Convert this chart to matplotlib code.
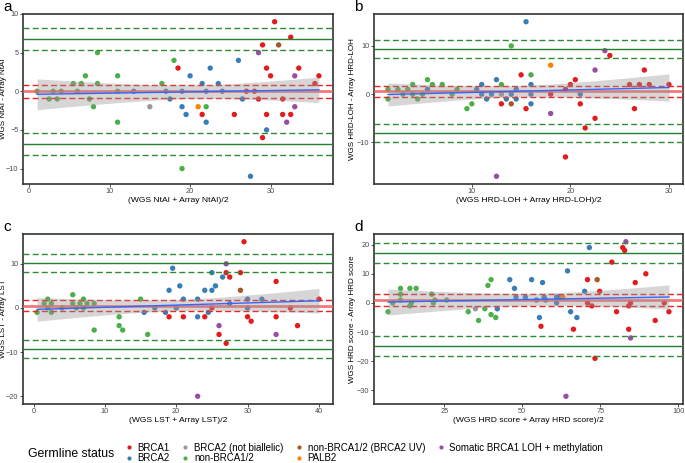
import numpy as np
import matplotlib.pyplot as plt
from matplotlib.lines import Line2D

plt.rcParams["font.family"] = ["Liberation Sans", "DejaVu Sans"]

# group codes -> (label, colour)
groups = ["r", "b", "y", "g", "n", "o", "p"]
group_names = {"r": "BRCA1", "b": "BRCA2", "y": "BRCA2 (not biallelic)", "g": "non-BRCA1/2",
               "n": "non-BRCA1/2 (BRCA2 UV)", "o": "PALB2", "p": "Somatic BRCA1 LOH + methylation"}
group_cols = {"r": "#E41A1C", "b": "#377EB8", "y": "#999999", "g": "#4DAF4A",
              "n": "#A65628", "o": "#FF7F00", "p": "#984EA3"}

# panel a: NtAI
a_x = [1, 2.5, 3, 3.5, 4, 5.5, 6, 6.5, 7, 7.5, 8, 8.5, 8.5, 11, 11, 11, 16.5, 18, 19, 22,
       15,
       13, 17, 17.5, 19, 19, 19.5, 20, 21.5, 22, 22, 22.5, 23.5, 24, 26, 26.5, 27.5, 29.5,
       21,
       18.5, 21.5, 25.5, 27, 28, 28.5, 29, 29, 29.5, 29.5, 30, 30.5, 31.5, 31.5, 32.5, 32.5, 33.5, 35.5, 36,
       28.5, 32, 33, 33,
       31]
a_y = [0, -1, 0, -1, 0, 1, 0, 1, 2, -1, -2, 5, 1, 2, 0, -4, 1, 4, -10, -2,
       -2,
       0, 0, -1, 0, -2, -3, 2, 1, 0, -4, 3, 1, 0, 4, -1, -11, -5,
       -2,
       3, -3, -3, 0, 0, -1, 6, -6, 3, -3, 2, 9, -1, -3, 7, -3, 3, 1, 2,
       5, -4, 2, -2,
       6]
a_g = list("g" * 20 + "y" + "b" * 17 + "o" + "r" * 19 + "p" * 4 + "n")

# panel b: HRD-LOH
b_x = [1.5, 1.5, 2.5, 3, 3.5, 4, 4, 4.5, 5, 5.5, 6, 7, 8, 8.5, 9.5, 10, 13, 14, 16,
       5.5, 10.5, 11, 11, 11.5, 12, 12.5, 13.5, 14, 14.5, 14.5, 15.5, 16, 16, 16, 21,
       13, 14, 18,
       13, 15, 15.5, 18, 19.5, 19.5, 20, 20.5, 21, 21.5, 22.5, 24, 26.5, 26, 27, 27.5, 28, 30,
       18, 22.5, 23.5, 12.5]
b_y = [1, -1, 1, 0, 1, 2, 0, -1, 0, 3, 2, 2, 0, 1, -3, -2, 2, 10, 4,
       1, 1, 2, 0, -1, 0, 3, -1, 0, 1, -1, 15, 2, 0, -2, 0,
       0, -2, 6,
       -2, 4, -3, 0, -13, 1, 2, 3, -2, -7, -5, 8, -3, 2, 2, 5, 2, 2,
       -4, 5, 9, -17]
b_g = list("g" * 19 + "b" * 16 + "yno" + "r" * 18 + "p" * 4)

# panel c: LST
c_x = [0.5, 1.5, 2, 2, 2.5, 2.5, 4, 5.5, 5.5, 6, 6.5, 7, 7, 7.5, 8.5, 8.5, 12, 12, 12.5, 15, 16,
       15.5, 17, 18.5, 19, 19.5, 20, 20.5, 21, 23, 23, 24, 24.5, 25, 25, 25.5, 26.5, 27.5, 30, 30, 32,
       19, 21, 24, 25, 26, 27, 27, 27.5, 29, 29.5, 30, 30.5, 34, 34, 36, 37, 40,
       26, 27, 23, 34,
       29]
c_y = [-1, 1, 2, 0, 1, -1, 0, 3, 1, 0, 1, 2, 0, 1, 1, -5, -2, -4, -5, 2, -6,
       -1, 0, -1, 4, 9, 0, 5, 2, 2, -2, 4, -1, 4, 8, 5, 7, 1, 2, 0, 2,
       -2, -2, -2, 0, -6, 8, -8, 7, 8, 15, -2, -3, 6, -2, 0, -4, 2,
       -4, 10, -20, -6,
       4]
c_g = list("g" * 21 + "b" * 20 + "r" * 17 + "p" * 4 + "n")

# panel d: HRD score
d_x = [7, 8.5, 11, 11, 11, 14, 14, 14.5, 16, 21, 21.5, 22, 25.8, 32.7, 36, 38, 39, 40, 40, 41.5,
       35,
       42, 46, 47.5, 48, 51, 53, 54.5, 55.5, 56.5, 57, 57.5, 61, 61, 62, 64.5, 65.5, 67.5, 70, 71.5,
       63, 74,
       56, 66.4, 70.9, 70.9, 72.3, 73.3, 74.8, 78.7, 80.2, 82.2, 82.8, 84.1, 84.1, 84.7, 86.2, 89.6, 92.6, 95.5, 97,
       83.2, 84.7, 64]
d_y = [-3, 0, 5, 3, 1, 5, -1, 0, 5, 3, 0, 1, 1, -3, -6, -2, 6, -4, 8, -5,
       -2,
       -2, 8, 5, 2, 2, 8, 1, -5, 7, 2, 1, 2, 0, 2, 11, -3, -5, 4, 19,
       2, 8,
       -8, -9, 8, 0, -1, -19, 4, 14, -3, 19, 18, -9, -1, 0, 7, 10, -6, 0, -3,
       21, -12, -32]
d_g = list("g" * 20 + "y" + "b" * 19 + "on" + "r" * 19 + "p" * 3)

# Bland-Altman lines:
# mean, mean CI low, mean CI high, lower LoA, its CI, upper LoA, its CI
a_lines = [0.0, -0.82, 0.82, -6.79, -8.26, -5.37, 6.76, 5.34, 8.18]
b_lines = [0.7, -0.49, 1.74, -8.08, -9.97, -6.2, 9.34, 7.46, 11.2]
c_lines = [0.37, -0.75, 1.7, -9.33, -11.4, -7.24, 10.15, 8.06, 12.3]
d_lines = [1.13, -0.9, 3.04, -14.9, -18.3, -11.4, 17.0, 13.6, 20.5]

fig = plt.figure(figsize=(6.85, 4.63), dpi=100)
W, H = 685.0, 463.0


def panel(px, py, pw, ph, x, y, g, lines, xticks, yticks, xlab, ylab, tag, lab_off):
    ax = fig.add_axes([px / W, 1 - (py + ph) / H, pw / W, ph / H])
    x = np.array(x, float)
    y = np.array(y, float)
    cols = [group_cols[k] for k in g]
    ax.scatter(x, y, s=15, c=cols, linewidths=0, zorder=2)

    mean, mlo, mhi, lo, lolo, lohi, hi, hilo, hihi = lines
    ax.axhline(mean, color="#F45A5A", lw=1.9, alpha=0.85, zorder=3)
    for v in (mlo, mhi):
        ax.axhline(v, color="#F21D1D", lw=1.0, dashes=(4.3, 2.3), zorder=3)
    for v in (lo, hi):
        ax.axhline(v, color="#23822A", lw=1.0, zorder=3)
    for v in (lolo, lohi, hilo, hihi):
        ax.axhline(v, color="#2E8B34", lw=1.0, dashes=(4.3, 2.3), zorder=3)

    # linear smooth with 95% confidence band
    n = len(x)
    slope, icpt = np.polyfit(x, y, 1)
    xs = np.linspace(x.min(), x.max(), 80)
    fit = icpt + slope * xs
    resid = y - (icpt + slope * x)
    s = np.sqrt(np.sum(resid ** 2) / (n - 2))
    se = s * np.sqrt(1.0 / n + (xs - x.mean()) ** 2 / np.sum((x - x.mean()) ** 2))
    ax.fill_between(xs, fit - 2.0 * se, fit + 2.0 * se, color="#999999", alpha=0.4, lw=0, zorder=4)
    ax.plot(xs, fit, color="#3366FF", lw=1.0, zorder=5)

    lo_all = min(y.min(), lolo)
    hi_all = max(y.max(), hihi)
    pad = 0.05 * (hi_all - lo_all)
    ax.set_ylim(lo_all - pad, hi_all + pad)
    xpad = 0.05 * (x.max() - x.min())
    ax.set_xlim(x.min() - xpad, x.max() + xpad)

    ax.set_xticks(xticks)
    ax.set_yticks(yticks)
    ax.tick_params(labelsize=5.3, labelcolor="#4D4D4D", color="#333333", length=2, width=0.6, pad=1.2)
    for sp in ax.spines.values():
        sp.set_color("#333333")
        sp.set_linewidth(1.2)
    ax.set_xlabel(xlab, fontsize=6.1, labelpad=1)
    ax.set_ylabel(ylab, fontsize=5.8, va="center")
    ax.yaxis.set_label_coords(-lab_off / pw, 0.5)
    fig.text((px - 20) / W, 1 - (py - 7) / H, tag, fontsize=11, ha="left", va="center")
    return ax


panel(23, 14, 310, 170, a_x, a_y, a_g, a_lines, [0, 10, 20, 30], [-10, -5, 0, 5, 10],
      "(WGS NtAI + Array NtAI)/2", "WGS NtAI - Array NtAI", "a", 19)
panel(374, 14, 309, 170, b_x, b_y, b_g, b_lines, [10, 20, 30], [-10, 0, 10],
      "(WGS HRD-LOH + Array HRD-LOH)/2", "WGS HRD-LOH - Array HRD-LOH", "b", 21.5)
panel(23, 234, 310, 170, c_x, c_y, c_g, c_lines, [0, 10, 20, 30, 40], [-20, -10, 0, 10],
      "(WGS LST + Array LST)/2", "WGS LST - Array LST", "c", 19)
panel(374, 234, 309, 170, d_x, d_y, d_g, d_lines, [25, 50, 75, 100], [-30, -20, -10, 0, 10, 20],
      "(WGS HRD score + Array HRD score)/2", "WGS HRD score - Array HRD score", "d", 21.5)

handles = [Line2D([], [], ls="", marker="o", ms=3, mew=0, color=group_cols[k], label=group_names[k])
           for k in groups]
fig.legend(handles=handles, ncol=4, loc="center left", bbox_to_anchor=(118 / W, 1 - 453 / H),
           frameon=False, fontsize=7, handletextpad=0.3, columnspacing=1.0,
           labelspacing=0.1, handlelength=1.2, borderpad=0)
fig.text(28 / W, 1 - 454 / H, "Germline status", fontsize=8.8, va="center", ha="left")

fig.savefig("out.png", dpi=100)
